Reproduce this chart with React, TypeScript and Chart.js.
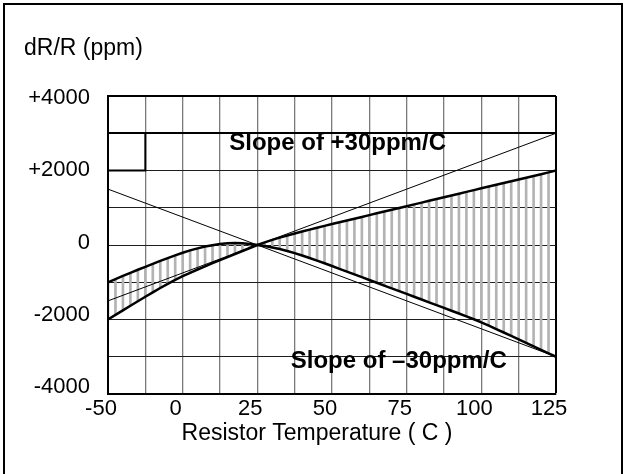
import React, { useEffect, useRef } from 'react';
import { Chart, registerables } from 'chart.js';

Chart.register(...registerables);

const FONT = "'Liberation Sans', Arial, Helvetica, sans-serif";

// Temperature samples (°C) along the plotted axis
const temperatures = [
  -25, -22.5, -20, -17.5, -15, -12.5, -10, -7.5, -5, -2.5,
  0, 2.5, 5, 7.5, 10, 12.5, 15, 17.5, 20, 22.5,
  25, 27.5, 30, 32.5, 35, 37.5, 40, 42.5, 45, 47.5,
  50, 52.5, 55, 57.5, 60, 62.5, 65, 67.5, 70, 72.5,
  75, 77.5, 80, 82.5, 85, 87.5, 90, 92.5, 95, 97.5,
  100, 102.5, 105, 107.5, 110, 112.5, 115, 117.5, 120, 122.5, 125,
];

// Thick curve: upper on the cold side, lower on the hot side (ppm)
const curveUpperCold = [
  -1000, -915, -830, -748, -665, -585, -505, -428, -352, -278,
  -208, -145, -90, -42, -5, 25, 45, 52, 45, 27,
  0, -29, -65, -109, -160, -218, -281, -348, -418, -490,
  -564, -639, -714, -789, -864, -939, -1014, -1089, -1164, -1239,
  -1314, -1389, -1464, -1539, -1614, -1689, -1764, -1839, -1914, -1994,
  -2079, -2167, -2257, -2349, -2442, -2535, -2628, -2721, -2814, -2907, -3000,
];

// Thick curve: lower on the cold side, upper on the hot side (ppm)
const curveLowerCold = [
  -2000, -1877, -1754, -1632, -1510, -1389, -1270, -1154, -1042, -936,
  -838, -746, -658, -573, -489, -406, -324, -242, -161, -80,
  0, 72, 138, 199, 256, 310, 362, 413, 463, 513,
  562, 610, 658, 706, 754, 802, 850, 898, 946, 994,
  1042, 1090, 1138, 1186, 1234, 1282, 1330, 1378, 1426, 1474,
  1522, 1569, 1616, 1663, 1710, 1757, 1804, 1852, 1900, 1950, 2000,
];

// Reference slope lines (±30 ppm/C through 25 °C)
const slopeEndsX = [-25, 125];
const slopePlus30 = [-1500, 3000];
const slopeMinus30 = [1500, -3000];

// Small bold box in the top-left corner
const boxX = [-25, -12.5, -12.5];
const boxY = [2000, 2000, 3000];

const xTickValues = [-25, 0, 25, 50, 75, 100, 125];
const xTickLabels = ['-50', '0', '25', '50', '75', '100', '125'];
const yTickValues = [4000, 2000, 0, -2000, -4000];
const yTickLabels = ['+4000', '+2000', '0', '-2000', '-4000'];

const annotationTexts = ['Slope of +30ppm/C', 'Slope of \u201330ppm/C'];
const annotationX = [15.6, 36.2];
const annotationY = [2537, -3297];

const yTitle = 'dR/R (ppm)';
const xTitle = 'Resistor Temperature ( C )';

const textPlugin = {
  id: 'chartTexts',
  afterDatasetsDraw(chart: any) {
    const { ctx, chartArea } = chart;
    const xs = chart.scales.x;
    const ys = chart.scales.y;
    ctx.save();
    ctx.fillStyle = '#000';
    ctx.textBaseline = 'alphabetic';
    ctx.textAlign = 'left';
    ctx.font = `bold 24px ${FONT}`;
    annotationTexts.forEach((t, i) => {
      ctx.fillText(t, xs.getPixelForValue(annotationX[i]), ys.getPixelForValue(annotationY[i]));
    });
    ctx.font = `23px ${FONT}`;
    ctx.textAlign = 'center';
    ctx.fillText(xTitle, (chartArea.left + chartArea.right) / 2 - 15, chartArea.bottom + 46);
    ctx.restore();
  },
};

function lineDataset(xs: number[], ys: number[], width: number) {
  return {
    type: 'line' as const,
    data: xs.map((v, i) => ({ x: v, y: ys[i] })),
    borderColor: '#000',
    backgroundColor: '#000',
    borderWidth: width,
    pointRadius: 0,
    tension: 0,
    fill: false,
    yAxisID: 'y',
    xAxisID: 'x',
  };
}

export default function App() {
  const ref = useRef<HTMLCanvasElement>(null);

  useEffect(() => {
    document.body.style.margin = '0';
    document.body.style.overflow = 'hidden';
    Chart.defaults.font.family = FONT;

    const hatch = temperatures.slice(0, -1).map((t, i) => ({
      x: t,
      y: [curveUpperCold[i], curveLowerCold[i]],
    }));

    const chart = new Chart(ref.current as HTMLCanvasElement, {
      type: 'line',
      data: {
        datasets: [
          lineDataset(temperatures, curveUpperCold, 2.5),
          lineDataset(temperatures, curveLowerCold, 2.5),
          lineDataset(slopeEndsX, slopePlus30, 1),
          lineDataset(slopeEndsX, slopeMinus30, 1),
          lineDataset(boxX, boxY, 2),
          {
            type: 'bar' as const,
            data: hatch as any,
            backgroundColor: '#b3b3b3',
            borderWidth: 0,
            barThickness: 2,
            order: 5,
            yAxisID: 'y',
            xAxisID: 'x',
          } as any,
        ],
      },
      options: {
        animation: false,
        responsive: false,
        layout: { padding: { left: 24, right: 69, top: 0, bottom: 0 } },
        plugins: {
          legend: { display: false },
          tooltip: { enabled: false },
          title: {
            display: true,
            text: yTitle,
            align: 'start',
            color: '#000',
            font: { size: 23, family: FONT, weight: 'normal' },
            padding: { top: 35, bottom: 33.4 },
          },
        },
        scales: {
          x: {
            type: 'linear',
            min: -25,
            max: 125,
            offset: false,
            afterFit: (s: any) => { s.height = 80; },
            grid: {
              offset: false,
              drawTicks: false,
              color: (c: any) => (c.tick && c.tick.value === 125 ? '#000' : '#7a7a7a'),
              lineWidth: (c: any) => (c.tick && c.tick.value === 125 ? 2 : 1.3),
            },
            border: { display: true, color: '#000', width: 2, z: 1 },
            ticks: {
              stepSize: 12.5,
              autoSkip: false,
              maxRotation: 0,
              minRotation: 0,
              labelOffset: -7,
              padding: 2,
              color: '#000',
              font: { size: 22, family: FONT },
              callback: (v: any) => {
                const idx = xTickValues.indexOf(Number(v));
                return idx >= 0 ? xTickLabels[idx] : '';
              },
            },
          },
          y: {
            type: 'linear',
            min: -4000,
            max: 4000,
            afterFit: (s: any) => { s.width = 0; },
            grid: {
              drawTicks: false,
              color: (c: any) => (c.tick && (c.tick.value === 3000 || c.tick.value === 4000) ? '#000' : '#1e1e1e'),
              lineWidth: (c: any) => (c.tick && (c.tick.value === 3000 || c.tick.value === 4000) ? 2 : 1),
            },
            border: { display: true, color: '#000', width: 2, z: 1 },
            ticks: { display: false, stepSize: 1000 },
          },
          yl: {
            type: 'linear',
            position: 'left',
            weight: 1,
            min: -4202.5,
            max: 4063.8,
            afterFit: (s: any) => { s.width = 84; },
            afterBuildTicks: (s: any) => { s.ticks = yTickValues.map((v) => ({ value: v })); },
            grid: { display: false, drawTicks: false },
            border: { display: false },
            ticks: {
              padding: 18,
              color: '#000',
              font: { size: 22, family: FONT },
              callback: (v: any) => {
                const idx = yTickValues.indexOf(Number(v));
                return idx >= 0 ? yTickLabels[idx] : '';
              },
            },
          },
        },
      } as any,
      plugins: [textPlugin],
    });

    return () => chart.destroy();
  }, []);

  return (
    <div style={{ position: 'relative', width: 625, height: 474, overflow: 'hidden', background: '#fff' }}>
      <canvas ref={ref} width={625} height={474} style={{ position: 'absolute', left: 0, top: 0 }} />
      <div
        style={{
          position: 'absolute',
          left: 3,
          top: 3,
          width: 616,
          height: 480,
          borderLeft: '2px solid #000',
          borderTop: '2px solid #000',
          borderRight: '2px solid #000',
          pointerEvents: 'none',
        }}
      />
    </div>
  );
}
